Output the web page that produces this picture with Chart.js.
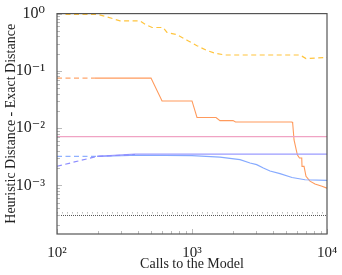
<!DOCTYPE html>
<html>
<head>
<meta charset="utf-8">
<script src="https://cdn.jsdelivr.net/npm/chart.js@4/dist/chart.umd.min.js"></script>
<style>
  html, body { margin: 0; padding: 0; background: #fff; }
  #wrap { width: 342px; height: 275px; }
</style>
</head>
<body>
<div id="wrap"><canvas id="c" width="342" height="275"></canvas></div>
<script>
  // calls to the model (x) and distance values (y)
  const yellowX = [100, 201, 231, 293, 412, 449, 506, 610, 653, 774, 933, 1089, 1292, 1479, 1755, 6310, 6990, 10000];
  const yellowY = [0.965, 0.965, 0.887, 0.747, 0.747, 0.653, 0.572, 0.572, 0.469, 0.428, 0.336, 0.275, 0.226, 0.203, 0.189, 0.189, 0.164, 0.171];

  const orangeDashX = [100, 191];
  const orangeDashY = [0.0747, 0.0747];
  const orangeX = [191, 497, 600, 1000, 1089, 1507, 1611, 2014, 2100, 5508, 5569, 5700, 6030, 6250, 6500, 6530, 6760, 6990, 7480, 8150, 9180, 10000];
  const orangeY = [0.0747, 0.0747, 0.0298, 0.0298, 0.0153, 0.0153, 0.0135, 0.0135, 0.0128, 0.0128, 0.0121, 0.0062, 0.0034, 0.0030, 0.0030, 0.00214, 0.00214, 0.00144, 0.00118, 0.00105, 0.00096, 0.00089];

  const pinkX = [100, 10000];
  const pinkY = [0.0071, 0.0071];

  const purpleDashX = [100, 198, 378];
  const purpleDashY = [0.00215, 0.0032, 0.00345];
  const purpleX = [198, 378, 10000];
  const purpleY = [0.0032, 0.0035, 0.0035];

  const blueDashX = [100, 198];
  const blueDashY = [0.0032, 0.0032];
  const blueX = [198, 400, 1000, 1611, 2268, 2691, 3015, 3377, 3783, 4485, 5508, 6871, 10000];
  const blueY = [0.0032, 0.00335, 0.0033, 0.0031, 0.0028, 0.00245, 0.0023, 0.0020, 0.00178, 0.0016, 0.00137, 0.00125, 0.00122];

  const refUpperY = 0.00033;
  const refLowerY = 0.000297;

  const xTicks = [100, 1000, 10000];
  const xTickLabels = ['10²', '10³', '10⁴'];
  const yTicks = [1, 0.1, 0.01, 0.001];
  const yTickLabels = ['10⁰', '10⁻¹', '10⁻²', '10⁻³'];

  const SERIF = '"Liberation Serif", "DejaVu Serif", serif';

  function pts(xs, ys) { return xs.map((x, i) => ({ x: x, y: ys[i] })); }

  function line(data, color, dash, width) {
    return {
      data: data,
      borderColor: color,
      borderWidth: width || 1.2,
      borderDash: dash || [],
      pointRadius: 0,
      fill: false,
      tension: 0
    };
  }

  // frame + inside ticks, pgfplots style
  const framePlugin = {
    id: 'frame',
    afterDraw(chart) {
      const { ctx, chartArea: a } = chart;
      const xs = chart.scales.x, ys = chart.scales.y;
      ctx.save();
      ctx.strokeStyle = '#bbb';
      ctx.lineWidth = 1;
      for (let e = -4; e <= 0; e++) {
        for (let m = 1; m <= 9; m++) {
          const v = m * Math.pow(10, e);
          if (v < ys.min || v > ys.max) continue;
          const py = Math.round(ys.getPixelForValue(v)) + 0.5;
          const len = m === 1 ? 5 : 3;
          ctx.beginPath(); ctx.moveTo(a.left, py); ctx.lineTo(a.left + len, py); ctx.stroke();
        }
      }
      for (let e = 2; e <= 4; e++) {
        for (let m = 1; m <= 9; m++) {
          const v = m * Math.pow(10, e);
          if (v < xs.min || v > xs.max) continue;
          const px = Math.round(xs.getPixelForValue(v)) + 0.5;
          const len = m === 1 ? 5 : 3;
          ctx.beginPath(); ctx.moveTo(px, a.bottom); ctx.lineTo(px, a.bottom - len); ctx.stroke();
        }
      }
      ctx.strokeStyle = '#555';
      ctx.lineWidth = 1.2;
      ctx.strokeRect(a.left, a.top, a.right - a.left, a.bottom - a.top);
      ctx.restore();
    }
  };

  new Chart(document.getElementById('c'), {
    type: 'line',
    plugins: [framePlugin],
    data: {
      datasets: [
        line(pts([100, 10000], [refUpperY, refUpperY]), '#999', [1, 4], 1),
        line(pts([100, 10000], [refLowerY, refLowerY]), '#555', [1, 1], 1),
        line(pts(pinkX, pinkY), '#f0a3c4', [], 1.4),
        line(pts(purpleDashX, purpleDashY), '#8c8cff', [5, 3.5]),
        line(pts(purpleX, purpleY), '#9c9cff', [], 1.3),
        line(pts(blueDashX, blueDashY), '#8fb0ff', [5, 3.5]),
        line(pts(blueX, blueY), '#86aaff', [], 1.2),
        line(pts(yellowX, yellowY), '#ffc43d', [5, 3.5]),
        line(pts(orangeDashX, orangeDashY), '#ffa56c', [5, 3.5]),
        line(pts(orangeX, orangeY), '#ff9a5c', [], 1.1)
      ]
    },
    options: {
      responsive: false,
      animation: false,
      devicePixelRatio: 1,
      layout: { padding: { top: 11, right: 15, left: 0, bottom: 0 } },
      plugins: { legend: { display: false }, tooltip: { enabled: false } },
      scales: {
        x: {
          type: 'logarithmic',
          min: 100, max: 10000,
          grid: { display: false },
          border: { display: false },
          afterBuildTicks: s => { s.ticks = xTicks.map(v => ({ value: v })); },
          afterFit: s => { s.height = 41; },
          ticks: {
            color: '#222', padding: 2, maxRotation: 0,
            font: { family: SERIF, size: 15 },
            callback: v => xTickLabels[xTicks.indexOf(v)] || ''
          },
          title: {
            display: true, text: 'Calls to the Model', color: '#222',
            font: { family: SERIF, size: 14 }, padding: { top: 0, bottom: 2 }
          }
        },
        y: {
          type: 'logarithmic',
          min: 0.000141, max: 1,
          grid: { display: false },
          border: { display: false },
          afterBuildTicks: s => { s.ticks = yTicks.map(v => ({ value: v })); },
          afterFit: s => { s.width = 57; },
          ticks: {
            color: '#222', padding: 4,
            font: { family: SERIF, size: 16 },
            callback: v => yTickLabels[yTicks.indexOf(v)] || ''
          },
          title: {
            display: true, text: 'Heuristic Distance - Exact Distance', color: '#222',
            font: { family: SERIF, size: 14 }, padding: { top: 3, bottom: 2 }
          }
        }
      }
    }
  });
</script>
</body>
</html>
